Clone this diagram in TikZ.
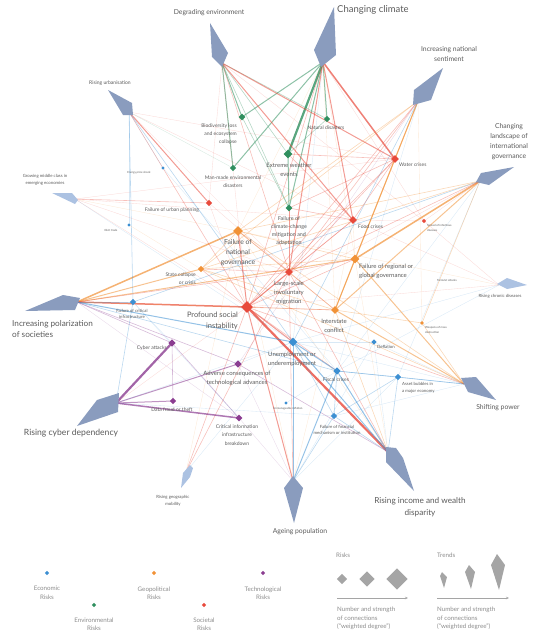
\documentclass[tikz,border=0pt]{standalone}
\usepackage{fontspec}
\setmainfont{Lato}
\usetikzlibrary{shapes.geometric,arrows.meta}
\pgfdeclarelayer{bg}\pgfsetlayers{bg,main}
\definecolor{gC}{RGB}{47,143,94}
\definecolor{rC}{RGB}{232,74,60}
\definecolor{oC}{RGB}{241,146,55}
\definecolor{bC}{RGB}{60,143,210}
\definecolor{pC}{RGB}{139,61,145}
\definecolor{kite}{RGB}{138,156,190}
\definecolor{kiteL}{RGB}{172,194,226}
\definecolor{txt}{RGB}{90,90,90}
\definecolor{lg}{RGB}{165,165,165}
\definecolor{lgt}{RGB}{140,140,140}
\newcommand\mkedge[2]{\tikzset{
 #11/.style={draw=#2,line width=.35pt,draw opacity=.2},
 #12/.style={draw=#2,line width=.6pt,draw opacity=.35},
 #13/.style={draw=#2,line width=1pt,draw opacity=.55},
 #14/.style={draw=#2,line width=1.5pt,draw opacity=.7},
 #15/.style={draw=#2,line width=2.2pt,draw opacity=.8}}}
\mkedge{g}{gC}\mkedge{r}{rC}\mkedge{o}{oC}\mkedge{b}{bC}\mkedge{p}{pC}
\tikzset{
 rk/.style 2 args={diamond,fill=#1,inner sep=0pt,minimum size=#2},
 lab/.style={text=txt,inner sep=0pt,align=center},
 lgl/.style={text=lgt,inner sep=0pt,align=center,font=\fontsize{6.2}{8.5}\selectfont},
 fA/.style={font=\fontsize{9.5}{11}\selectfont},
 fB/.style={font=\fontsize{8.2}{11.5}\selectfont},
 fC/.style={font=\fontsize{6.8}{10}\selectfont},
 fP/.style={font=\fontsize{7.5}{11}\selectfont},
 fD/.style={font=\fontsize{6}{9}\selectfont},
 fE/.style={font=\fontsize{5}{8.3}\selectfont},
 fH/.style={font=\fontsize{5.4}{8.2}\selectfont},
 fF/.style={font=\fontsize{4.3}{6.8}\selectfont},
 fG/.style={font=\fontsize{2.8}{4.6}\selectfont},
 legarrow/.style={draw=lg,line width=.5pt,-{Stealth[length=3pt,width=2.5pt]}},
}
\begin{document}
\begin{tikzpicture}[x=1pt,y=-1pt]
\useasboundingbox (0,0) rectangle (556,642);
% ---------- trends (kites) ----------
\fill[kite] (210,23) -- (228,53) -- (222,67) -- (212,57) -- cycle;
\fill[kite] (334,7) -- (336,55) -- (321,67) -- (314,50) -- cycle;
\fill[kite] (443,68) -- (431,100) -- (413,105) -- (414,90) -- cycle;
\fill[kite] (514,167) -- (489,185) -- (476,182) -- (481,173) -- cycle;
\fill[kiteL] (507,278) -- (527,285) -- (507,289) -- (497,284) -- cycle;
\fill[kite] (461,378) -- (476,377) -- (496,400) -- (468,392) -- cycle;
\fill[kite] (386,447) -- (396,448) -- (403,458) -- (414,491) -- (386,462) -- cycle;
\fill[kite] (293,476) -- (303,488) -- (294,523) -- (284,488) -- cycle;
\fill[kiteL] (190,465) -- (193,468) -- (190,477) -- (181,488) -- (183,473) -- cycle;
\fill[kite] (119,393) -- (118,412) -- (77,426) -- (97,400) -- cycle;
\fill[kite] (63,295) -- (80,298) -- (75,310) -- (25,311) -- cycle;
\fill[kiteL] (52,193) -- (72,193) -- (78,200) -- (75,204) -- cycle;
\fill[kite] (108,90) -- (132,103) -- (133,115) -- (123,115) -- cycle;
\coordinate (tDE) at (222,63);
\coordinate (tCC) at (323,62);
\coordinate (tINS) at (418,101);
\coordinate (tCL) at (480,181);
\coordinate (tRC) at (499,285);
\coordinate (tSP) at (464,384);
\coordinate (tRI) at (388,452);
\coordinate (tAP) at (293,481);
\coordinate (tRG) at (186,472);
\coordinate (tCY) at (116,403);
\coordinate (tIP) at (77,302);
\coordinate (tGM) at (75,199);
\coordinate (tRU) at (129,112);
% trend labels
\node[lab,fC] (lDE) at (209,13) {Degrading environment};
\node[lab,fA,anchor=west] (lCC) at (337,10) {Changing climate};
\node[lab,fC] (lINS) at (449,54) {Increasing national\\sentiment};
\node[lab,fC] (lCL) at (509,142) {Changing\\landscape of\\international\\governance};
\node[lab,fF] (lRC) at (500,296) {Rising chronic diseases};
\node[lab,fC] (lSP) at (498,408) {Shifting power};
\node[lab,fB] (lRI) at (420,507) {Rising income and wealth\\disparity};
\node[lab,fC] (lAP) at (300,532) {Ageing population};
\node[lab,fF] (lRG) at (173,501) {Rising geographic\\mobility};
\node[lab,fB,font=\fontsize{8.6}{11}\selectfont] (lCY) at (71,433) {Rising cyber dependency};
\node[lab,fB,anchor=west,align=left] (lIP) at (12,329) {Increasing polarization\\of societies};
\node[lab,fF] (lGM) at (45,180) {Growing middle class in\\emerging economies};
\node[lab,fE] (lRU) at (110,83) {Rising urbanisation};
% ---------- risks ----------
% economic
\node[rk={bC}{3.4pt}] (eps) at (163,168) {};
\node[rk={bC}{3.4pt}] (it) at (129,225) {};
\node[rk={bC}{6.6pt}] (fci) at (133,302) {};
\node[rk={bC}{9pt}] (un) at (293,342) {};
\node[rk={bC}{7.6pt}] (fi) at (337,371) {};
\node[rk={bC}{5.6pt}] (dfl) at (374,342) {};
\node[rk={bC}{6.6pt}] (ab) at (398,377) {};
\node[rk={bC}{3.4pt}] (ui) at (286,403) {};
\node[rk={bC}{6.6pt}] (ffm) at (334,416) {};
% environmental
\node[rk={gC}{7pt}] (bl) at (242,117) {};
\node[rk={gC}{6.6pt}] (mm) at (233,168) {};
\node[rk={gC}{6.6pt}] (nd) at (327,119) {};
\node[rk={gC}{9pt}] (ew) at (288,154) {};
\node[rk={gC}{7pt}] (fcc) at (289,208) {};
% societal
\node[rk={rC}{8pt}] (wc) at (395,159) {};
\node[rk={rC}{8pt}] (fc) at (353,220) {};
\node[rk={rC}{6.6pt}] (fup) at (209,203) {};
\node[rk={rC}{4.4pt}] (sid) at (424,221) {};
\node[rk={rC}{8pt}] (lsm) at (289,272) {};
\node[rk={rC}{12pt}] (psi) at (247,307) {};
% geopolitical
\node[rk={oC}{10pt}] (fng) at (238,231) {};
\node[rk={oC}{6.6pt}] (sc) at (201,269) {};
\node[rk={oC}{9pt}] (frgg) at (355,259) {};
\node[rk={oC}{8pt}] (ic) at (335,310) {};
\node[rk={oC}{4pt}] (wmd) at (422,323) {};
% technological
\node[rk={pC}{7.6pt}] (ca) at (172,343) {};
\node[rk={pC}{7.4pt}] (ac) at (238,364) {};
\node[rk={pC}{6.6pt}] (dft) at (173,401) {};
\node[rk={pC}{7pt}] (cib) at (239,418) {};
% risk labels
\node[lab,fG] (leps) at (139,173) {Energy price shock};
\node[lab,fG] (lit) at (111,230) {Illicit trade};
\node[lab,fF] (lfci) at (132,314) {Failure of critical\\infrastructure};
\node[lab,fD] (lun) at (292,359) {Unemployment or\\underemployment};
\node[lab,fE] (lfi) at (336,380) {Fiscal crises};
\node[lab,fF] (ldfl) at (386,347) {Deflation};
\node[lab,fF,anchor=west,align=left] (lab) at (402,388) {Asset bubbles in\\a major economy};
\node[lab,fG] (lui) at (288,409) {Unmanageable inflation};
\node[lab,fF] (lffm) at (337,430) {Failure of financial\\mechanism or institution};
\node[lab,fE,anchor=east,align=right] (lbl) at (237,134) {Biodiversity loss\\and ecosystem\\collapse};
\node[lab,fE] (lmm) at (233,182) {Man-made environmental\\disasters};
\node[lab,fE] (lnd) at (326,128) {Natural disasters};
\node[lab,fD] (lew) at (289,170) {Extreme weather\\events};
\node[lab,fH] (lfcc) at (289,231) {Failure of\\climate-change\\mitigation and\\adaptation};
\node[lab,fE,anchor=west] (lwc) at (399,165) {Water crises};
\node[lab,fE,anchor=west] (lfc) at (358,227) {Food crises};
\node[lab,fE] (lfup) at (172,210) {Failure of urban planning};
\node[lab,fG,anchor=west,align=left] (lsid) at (427,228) {Spread of infectious\\diseases};
\node[lab,fD] (llsm) at (289,293) {Large-scale\\involuntary\\migration};
\node[lab,fP,anchor=east,align=right] (lpsi) at (238,321) {Profound social\\instability};
\node[lab,fC] (lfng) at (238,253) {Failure of\\national\\governance};
\node[lab,fE,anchor=east,align=right] (lsc) at (196,279) {State collapse\\or crisis};
\node[lab,fD,anchor=west,align=left] (lfrgg) at (359,271) {Failure of regional or\\global governance};
\node[lab,fD] (lic) at (334,326) {Interstate\\conflict};
\node[lab,fG,anchor=west,align=left] (lwmd) at (425,330) {Weapons of mass\\destruction};
\node[lab,fE,anchor=east] (lca) at (167,348) {Cyber attacks};
\node[lab,fD] (lac) at (237,378) {Adverse consequences of\\technological advances};
\node[lab,fE] (ldft) at (172,410) {Data fraud or theft};
\node[lab,fE] (lcib) at (237,435) {Critical information\\infrastructure\\breakdown};
\node[lab,fG] (lta) at (447,280) {Terrorist attacks};
% ---------- connections ----------
\begin{pgfonlayer}{bg}
\foreach \a/\b/\s in {
 tCC/ew/g5, tCC/bl/g3, tCC/mm/g3, tCC/nd/g3, tCC/fcc/g3, tCC/wc/r4, tCC/fc/r3, tCC/lsm/r3,
 tCC/psi/r2, tCC/sid/r1, tCC/fng/o1, tCC/ic/o1, tCC/frgg/o1, tCC/un/b1,
 tDE/bl/g3, tDE/mm/g3, tDE/ew/g2, tDE/nd/g2, tDE/fcc/g2, tDE/wc/r3, tDE/fc/r3, tDE/lsm/r2,
 tDE/psi/r1, tDE/fup/r1, tDE/sid/r1,
 tINS/frgg/o3, tINS/ic/o3, tINS/fng/o2, tINS/sc/o2, tINS/lsm/r2, tINS/psi/r2, tINS/un/b2,
 tINS/fi/b1, tINS/wmd/o1, tINS/ac/p1,
 tCL/frgg/o4, tCL/ic/o3, tCL/fng/o2, tCL/sc/o2, tCL/wmd/o2, tCL/lsm/r2, tCL/sid/r1, tCL/fci/b2,
 tCL/fi/b1, tCL/ab/b1, tCL/psi/r1,
 tRC/sid/r1, tRC/fi/b1, tRC/un/b1, tRC/fng/o1, tRC/psi/r1, tRC/fc/r1,
 tSP/ic/o3, tSP/frgg/o3, tSP/wmd/o2, tSP/fng/o2, tSP/sc/o2, tSP/ab/b2, tSP/fi/b2, tSP/dfl/b1,
 tSP/un/b1, tSP/psi/r2, tSP/ffm/b1,
 tRI/psi/r5, tRI/un/b3, tRI/fi/b3, tRI/ffm/b2, tRI/ab/b2, tRI/lsm/r2, tRI/ic/o2, tRI/frgg/o1,
 tRI/ac/p2, tRI/dfl/b1, tRI/fng/o1,
 tAP/fi/b3, tAP/un/b3, tAP/psi/r3, tAP/lsm/r2, tAP/ffm/b2, tAP/ab/b1, tAP/ac/p1, tAP/cib/p1,
 tAP/ic/o1, tAP/dfl/b1, tAP/fng/o1,
 tRG/lsm/r2, tRG/psi/r2, tRG/un/b1, tRG/fng/o1,
 tCY/ca/p5, tCY/ac/p3, tCY/dft/p3, tCY/cib/p4, tCY/fci/b2, tCY/un/b1, tCY/psi/r1, tCY/ffm/b1,
 tIP/fng/o4, tIP/sc/o3, tIP/frgg/o3, tIP/psi/r4, tIP/lsm/r2, tIP/un/b3, tIP/ac/p2, tIP/ca/p2,
 tIP/fci/b2, tIP/ic/o2, tIP/fi/b2, tIP/cib/p1,
 tGM/fup/r2, tGM/un/b1, tGM/fc/r1, tGM/wc/r1, tGM/lsm/r1, tGM/psi/r1, tGM/fng/o1,
 tRU/fup/r3, tRU/fci/b2, tRU/un/b2, tRU/mm/g1, tRU/psi/r2, tRU/lsm/r1, tRU/wc/r1, tRU/fc/r1,
 tRU/eps/b1, tRU/it/b1,
 psi/lsm/r3, psi/fng/r3, psi/sc/r2, psi/un/r3, psi/ic/r2, psi/frgg/r2, psi/fc/r2, psi/wc/r2,
 psi/fi/r2, lsm/ic/r2, lsm/frgg/r2, lsm/fng/r2, lsm/wc/r2, lsm/fc/r2, lsm/fcc/r3, lsm/sc/r2,
 fng/frgg/o2, fng/sc/o2, fng/ic/o2, frgg/ic/o3, frgg/fc/o1, fcc/ew/g3, fcc/wc/r2, fcc/fc/r2,
 fcc/bl/g2, ew/nd/g2, ew/wc/r2, ew/fc/r2, wc/fc/r2, wc/ic/o1, fc/ic/o1, un/fi/b3, un/ffm/b2,
 fi/ffm/b2, ab/ffm/b2, ab/fi/b2, dfl/un/b1, ui/fi/b1, ca/cib/p2, ca/dft/p2, ac/un/b1,
 cib/fci/b1, fci/ca/b1, sc/ic/o2, sc/frgg/o2, fup/lsm/r1, fup/psi/r1, eps/fi/b1, it/sc/o1,
 wmd/ic/o2, sid/fc/r1}
 \draw[\s] (\a.center) -- (\b.center);
\end{pgfonlayer}
% ---------- legend ----------
\node[rk={bC}{4.6pt}] (kEco) at (47,573) {};
\node[lgl] (tEco) at (47,593) {Economic\\Risks};
\node[rk={gC}{4.6pt}] (kEnv) at (94,605) {};
\node[lgl] (tEnv) at (94,624) {Environmental\\Risks};
\node[rk={oC}{4.6pt}] (kGeo) at (154,573) {};
\node[lgl] (tGeo) at (154,593) {Geopolitical\\Risks};
\node[rk={rC}{4.6pt}] (kSoc) at (204,605) {};
\node[lgl] (tSoc) at (204,624) {Societal\\Risks};
\node[rk={pC}{4.6pt}] (kTec) at (263,573) {};
\node[lgl] (tTec) at (263,593) {Technological\\Risks};
\node[lgl,anchor=west] (hRisk) at (336,555) {Risks};
\node[rk={lg}{10.4pt}] (s1) at (342,579) {};
\node[rk={lg}{15.6pt}] (s2) at (367,579) {};
\node[rk={lg}{21.6pt}] (s3) at (397,579) {};
\coordinate (ar1) at (337,598);
\coordinate (ar2) at (408,598);
\draw[legarrow] (ar1) -- (ar2);
\node[lgl,anchor=north west,align=left] (nRisk) at (337,607) {Number and strength\\of connections\\(“weighted degree”)};
\node[lgl,anchor=west] (hTrend) at (437,555) {Trends};
\fill[lg] (442,572) -- (447,577) -- (444,588) -- (440,576) -- cycle;
\fill[lg] (469,565) -- (475,572) -- (471,589) -- (465,572) -- cycle;
\fill[lg] (497,554) -- (505,565) -- (499,590) -- (491,565) -- cycle;
\coordinate (ar3) at (437,598);
\coordinate (ar4) at (509,598);
\draw[legarrow] (ar3) -- (ar4);
\node[lgl,anchor=north west,align=left] (nTrend) at (437,607) {Number and strength\\of connections\\(“weighted degree”)};
\end{tikzpicture}
\end{document}
